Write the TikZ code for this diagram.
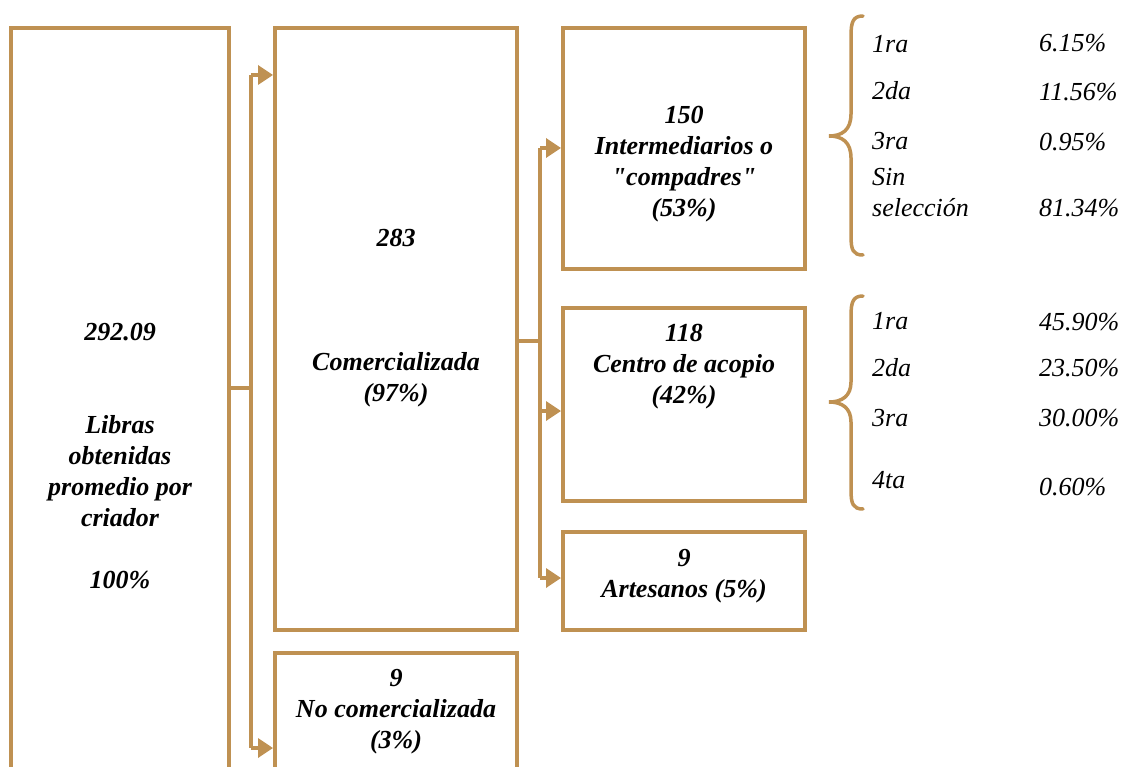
\documentclass[tikz,border=0pt]{standalone}
\usepackage{fontspec}
\setmainfont{Liberation Serif}
\usetikzlibrary{arrows.meta}
\definecolor{gold}{RGB}{191,145,82}
\newcommand{\plainquote}{{\addfontfeatures{Ligatures=TeXOff}\symbol{34}}}
\begin{document}
\begin{tikzpicture}[x=1pt,y=-1pt,
  box/.style={draw=gold,line width=4pt,rectangle,inner sep=0pt},
  txt/.style={align=center,font=\fontsize{26}{31}\selectfont\bfseries\itshape,inner sep=0pt},
  lab/.style={anchor=west,font=\fontsize{26}{31}\selectfont\itshape,inner sep=0pt},
  conn/.style={draw=gold,line width=3.5pt},
  arr/.style={conn,-{Triangle[length=15pt,width=19pt]}},
  brc/.style={draw=gold,line width=3.5pt,line cap=round}]
\useasboundingbox (0,0) rectangle (1126,767);
\clip (0,0) rectangle (1126,767);
% boxes
\node[box,minimum width=218pt,minimum height=772pt] (b0) at (120,414) {};
\node[box,minimum width=242pt,minimum height=602pt] (b283) at (396,329) {};
\node[box,minimum width=242pt,minimum height=147pt] (bnc) at (396,726.5) {};
\node[box,minimum width=242pt,minimum height=241pt] (b150) at (684,148.5) {};
\node[box,minimum width=242pt,minimum height=193pt] (b118) at (684,404.5) {};
\node[box,minimum width=242pt,minimum height=98pt] (bart) at (684,581) {};
% texts
\node[txt] (t0) at (120,456) {292.09\\\mbox{}\\\mbox{}\\Libras\\obtenidas\\promedio por\\criador\\\mbox{}\\100\%};
\node[txt] (t283) at (396,318) {283\\\mbox{}\\\mbox{}\\\mbox{}\\Comercializada\\(97\%)};
\node[txt] (tnc) at (396,712) {9\\No comercializada\\(3\%)};
\node[txt] (t150) at (684,164.5) {150\\Intermediarios o\\\plainquote compadres\plainquote\\(53\%)};
\node[txt] (t118) at (684,367) {118\\Centro de acopio\\(42\%)};
\node[txt] (tart) at (684,576.5) {9\\Artesanos (5\%)};
% connectors
\coordinate (j1) at (251,388);
\coordinate (a1) at (251,75);
\coordinate (a2) at (251,748);
\draw[conn] (b0.east|-j1) -- (j1);
\draw[conn] (a1) -- (a2);
\draw[arr] (a1) -- (b283.west|-a1);
\draw[arr] (a2) -- (bnc.west|-a2);
\coordinate (j2) at (540,341);
\coordinate (c1) at (540,148);
\coordinate (c2) at (540,411);
\coordinate (c3) at (540,578);
\draw[conn] (b283.east|-j2) -- (j2);
\draw[conn] (c1) -- (c3);
\draw[arr] (c1) -- (b150.west|-c1);
\draw[arr] (c2) -- (b118.west|-c2);
\draw[arr] (c3) -- (bart.west|-c3);
% braces
\draw[brc] (863,16) .. controls (853,16) and (851,22) .. (851,36) -- (851,114) .. controls (851,130) and (842,136) .. (829,136) .. controls (842,136) and (851,142) .. (851,158) -- (851,236) .. controls (851,250) and (853,255) .. (863,255);
\draw[brc] (863,296) .. controls (853,296) and (851,302) .. (851,316) -- (851,382) .. controls (851,396) and (842,402) .. (829,402) .. controls (842,402) and (851,408) .. (851,422) -- (851,490) .. controls (851,504) and (853,509) .. (863,509);
% brace labels
\node[lab] (l11) at (872,44) {1ra};
\node[lab] (l12) at (872,91) {2da};
\node[lab] (l13) at (872,141) {3ra};
\node[lab] (l14) at (872,177) {Sin};
\node[lab] (l15) at (872,208) {selección};
\node[lab] (v11) at (1039,43) {6.15\%};
\node[lab] (v12) at (1039,92) {11.56\%};
\node[lab] (v13) at (1039,142) {0.95\%};
\node[lab] (v14) at (1039,208) {81.34\%};
\node[lab] (l21) at (872,321) {1ra};
\node[lab] (l22) at (872,368) {2da};
\node[lab] (l23) at (872,418) {3ra};
\node[lab] (l24) at (872,480) {4ta};
\node[lab] (v21) at (1039,322) {45.90\%};
\node[lab] (v22) at (1039,368) {23.50\%};
\node[lab] (v23) at (1039,418) {30.00\%};
\node[lab] (v24) at (1039,487) {0.60\%};
\end{tikzpicture}
\end{document}
